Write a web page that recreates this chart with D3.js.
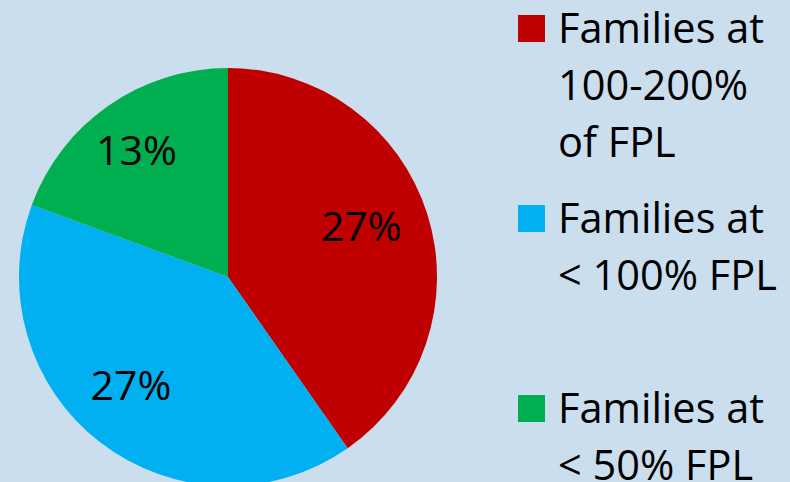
<!DOCTYPE html>
<html>
<head>
<meta charset="utf-8">
<script src="https://cdn.jsdelivr.net/npm/d3@7"></script>
<style>
  html, body { margin: 0; padding: 0; background: #cadeee; }
  svg { display: block; }
</style>
</head>
<body>
<div id="chart"></div>
<script>
// data
const categories = ["Families at 100-200% of FPL", "Families at < 100% FPL", "Families at < 50% FPL"]
const values = [27, 27, 13]
const labels = ["27%", "27%", "13%"]
const colors = ["#c00000", "#00b0f0", "#00b050"]
const legendLines = [
  ["Families at", "100-200%", "of FPL"],
  ["Families at", "< 100% FPL"],
  ["Families at", "< 50% FPL"]
]

const width = 790
const height = 482
const cx = 228, cy = 277, radius = 209

const svg = d3.select("#chart")
  .append("svg")
  .attr("width", width)
  .attr("height", height)
  .attr("viewBox", [0, 0, width, height])
  .style("font-family", "'Open Sans', Lato, sans-serif")

svg.append("rect")
  .attr("width", width)
  .attr("height", height)
  .attr("fill", "#cadeee")

const pie = d3.pie().sort(null).value(d => d)
const arcs = pie(values)

const arc = d3.arc().innerRadius(0).outerRadius(radius)
const labelArc = d3.arc().innerRadius(146).outerRadius(146)

const g = svg.append("g").attr("transform", `translate(${cx},${cy})`)

g.selectAll("path")
  .data(arcs)
  .join("path")
  .attr("d", arc)
  .attr("fill", (d, i) => colors[i])

g.selectAll("text")
  .data(arcs)
  .join("text")
  .attr("transform", d => {
    const [x, y] = labelArc.centroid(d)
    // nudge a little left/up, like the original's label placement
    return `translate(${x - (x < 0 ? 8 : 6)},${y - 7})`
  })
  .attr("text-anchor", "middle")
  .attr("dy", "0.36em")
  .attr("font-size", 41)
  .attr("fill", "#000")
  .text((d, i) => labels[i])

// legend
const legendY = [15, 205, 395]
const legend = svg.append("g")
  .selectAll("g")
  .data(categories)
  .join("g")
  .attr("transform", (d, i) => `translate(518,${legendY[i]})`)

legend.append("rect")
  .attr("width", 27)
  .attr("height", 27)
  .attr("fill", (d, i) => colors[i])

legend.each(function (d, i) {
  d3.select(this).selectAll("text")
    .data(legendLines[i])
    .join("text")
    .attr("x", 40)
    .attr("y", (t, j) => 28 + j * 57)
    .attr("font-size", 41.5)
    .attr("fill", "#000")
    .text(t => t)
})
</script>
</body>
</html>
